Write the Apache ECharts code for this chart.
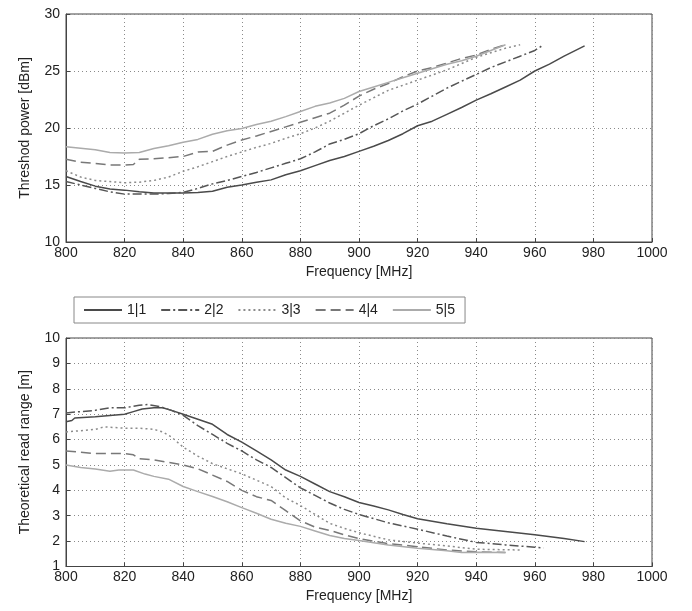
<!DOCTYPE html>
<html>
<head>
<meta charset="utf-8">
<script src="https://cdn.jsdelivr.net/npm/echarts@6/dist/echarts.min.js"></script>
<style>html,body{margin:0;padding:0;background:#fff}#c{width:692px;height:611px}</style>
</head>
<body>
<div id="c"></div>
<script>
// ---- Data ----
var seriesNames = ['1|1', '2|2', '3|3', '4|4', '5|5'];
var xTicks = [800, 820, 840, 860, 880, 900, 920, 940, 960, 980, 1000];

// Threshold power [dBm] (top panel)
var f1Top = [800,805,810,815,820,825,830,835,840,845,850,855,860,865,870,875,880,885,890,895,900,905,910,915,920,925,930,935,940,945,950,955,960,965,970,977];
var p1Top = [15.75,15.3,14.9,14.65,14.55,14.4,14.3,14.3,14.3,14.35,14.45,14.8,15.0,15.25,15.45,15.9,16.25,16.7,17.15,17.5,17.95,18.4,18.9,19.5,20.2,20.6,21.2,21.8,22.45,23.0,23.6,24.2,25.0,25.6,26.3,27.2];

var f2Top = [800,805,810,815,820,825,830,835,840,845,850,855,860,865,870,875,880,885,890,895,900,905,910,915,920,925,930,935,940,945,950,955,960,963];
var p2Top = [15.3,15.0,14.7,14.4,14.2,14.2,14.2,14.25,14.35,14.7,15.1,15.4,15.75,16.1,16.5,16.9,17.3,17.9,18.6,19.0,19.5,20.2,20.8,21.5,22.1,22.8,23.5,24.1,24.7,25.3,25.8,26.3,26.8,27.3];

var f3Top = [800,805,810,815,820,825,830,835,840,845,850,855,860,865,870,875,880,885,890,895,900,910,920,930,940,950,955];
var p3Top = [16.25,15.7,15.4,15.3,15.2,15.25,15.4,15.7,16.2,16.6,17.05,17.5,17.9,18.3,18.65,19.1,19.5,20.0,20.6,21.3,22.0,23.3,24.2,25.1,26.2,27.0,27.3];

var f4Top = [800,805,810,815,820,823,825,830,840,845,850,855,860,865,870,875,880,885,890,895,900,905,910,915,920,925,930,935,940,945,950];
var p4Top = [17.25,17.0,16.9,16.75,16.75,16.8,17.25,17.3,17.5,17.9,17.95,18.5,18.95,19.3,19.7,20.1,20.5,20.9,21.3,22.0,22.8,23.4,23.9,24.5,25.0,25.3,25.7,26.1,26.4,26.9,27.3];

var f5Top = [800,810,815,820,825,830,835,840,845,850,855,860,865,870,875,880,885,890,895,900,905,910,915,920,925,930,935,940,945,950];
var p5Top = [18.35,18.1,17.85,17.8,17.85,18.2,18.45,18.75,19.0,19.45,19.75,19.95,20.3,20.6,21.0,21.45,21.9,22.2,22.6,23.2,23.6,24.0,24.4,24.8,25.2,25.6,25.9,26.3,26.8,27.3];

// Theoretical read range [m] (bottom panel)
var f1Bot = [800,802,803,810,815,820,823,826,830,833,836,840,845,850,855,860,865,870,875,880,885,890,895,900,905,910,915,920,930,940,950,960,970,977];
var r1Bot = [6.7,6.75,6.85,6.9,6.95,7.0,7.1,7.2,7.25,7.25,7.15,7.0,6.8,6.6,6.2,5.9,5.55,5.2,4.8,4.55,4.25,3.95,3.75,3.52,3.38,3.23,3.05,2.88,2.68,2.51,2.38,2.25,2.1,1.98];

var f2Bot = [800,805,810,815,820,825,828,832,836,840,845,850,855,860,865,870,875,880,885,890,895,900,910,920,930,940,950,960,963];
var r2Bot = [7.05,7.1,7.15,7.25,7.25,7.35,7.38,7.3,7.15,6.95,6.55,6.2,5.85,5.55,5.2,4.9,4.5,4.1,3.8,3.5,3.25,3.05,2.72,2.47,2.2,1.95,1.85,1.76,1.73];

var f3Bot = [800,805,810,813,820,825,830,833,836,840,845,850,855,860,865,870,875,880,885,890,895,900,910,920,930,940,950,955];
var r3Bot = [6.3,6.35,6.4,6.5,6.45,6.45,6.4,6.3,6.1,5.7,5.35,5.05,4.85,4.65,4.4,4.15,3.7,3.4,3.05,2.7,2.5,2.33,2.05,1.92,1.81,1.68,1.66,1.65];

var f4Bot = [800,805,810,815,820,823,825,830,835,840,845,850,855,860,865,870,875,880,885,890,895,900,910,920,930,940,950];
var r4Bot = [5.55,5.5,5.45,5.45,5.45,5.4,5.25,5.2,5.1,5.0,4.85,4.6,4.35,4.0,3.75,3.6,3.2,2.8,2.55,2.42,2.25,2.1,1.9,1.78,1.65,1.58,1.55];

var f5Bot = [800,805,810,815,818,823,827,830,835,840,845,850,855,860,865,870,875,880,885,890,895,900,910,920,930,935,940,950];
var r5Bot = [5.0,4.9,4.84,4.75,4.8,4.8,4.64,4.55,4.44,4.15,3.95,3.76,3.55,3.32,3.1,2.86,2.7,2.58,2.4,2.22,2.1,2.02,1.85,1.72,1.62,1.55,1.56,1.55];

// ---- Build ----
function pairs(xs, ys) { return xs.map(function (x, i) { return [x, ys[i]]; }); }

var colors = ['#4a4a4a', '#555555', '#8c8c8c', '#787878', '#ababab'];
var dashes = ['solid', [9, 3, 2, 3], [2, 3], [10, 5], 'solid'];
var topData = [pairs(f1Top, p1Top), pairs(f2Top, p2Top), pairs(f3Top, p3Top), pairs(f4Top, p4Top), pairs(f5Top, p5Top)];
var botData = [pairs(f1Bot, r1Bot), pairs(f2Bot, r2Bot), pairs(f3Bot, r3Bot), pairs(f4Bot, r4Bot), pairs(f5Bot, r5Bot)];

var FONT = 'Liberation Sans';
var txt = { fontFamily: FONT, fontSize: 14, color: '#222' };

function xAxisCfg(gridIndex) {
  return {
    type: 'value', gridIndex: gridIndex, min: 800, max: 1000, interval: 20,
    name: 'Frequency [MHz]', nameLocation: 'middle', nameGap: 23,
    nameTextStyle: txt,
    axisLine: { show: true, lineStyle: { color: '#444', width: 1 } },
    axisTick: { show: true, inside: true, length: 4, lineStyle: { color: '#444' } },
    axisLabel: Object.assign({ margin: 4, formatter: function (v) { return String(v); } }, txt),
    splitLine: { show: true, lineStyle: { type: [1, 3], color: '#8a8a8a', width: 1 } }
  };
}
function yAxisCfg(gridIndex, min, max, interval, name) {
  return {
    type: 'value', gridIndex: gridIndex, min: min, max: max, interval: interval,
    name: name, nameLocation: 'middle', nameGap: 34,
    nameTextStyle: txt,
    axisLine: { show: true, lineStyle: { color: '#444', width: 1 } },
    axisTick: { show: true, inside: true, length: 4, lineStyle: { color: '#444' } },
    axisLabel: Object.assign({ margin: 6 }, txt),
    splitLine: { show: true, lineStyle: { type: [1, 3], color: '#8a8a8a', width: 1 } }
  };
}

var series = [];
for (var i = 0; i < 5; i++) {
  series.push({
    name: seriesNames[i], type: 'line', xAxisIndex: 0, yAxisIndex: 0,
    data: topData[i], symbol: 'none', showSymbol: false, animation: false,
    lineStyle: { color: colors[i], width: 1.5, type: dashes[i] },
    itemStyle: { color: colors[i] }
  });
}
for (var j = 0; j < 5; j++) {
  series.push({
    name: seriesNames[j], type: 'line', xAxisIndex: 1, yAxisIndex: 1,
    data: botData[j], symbol: 'none', showSymbol: false, animation: false,
    lineStyle: { color: colors[j], width: 1.5, type: dashes[j] },
    itemStyle: { color: colors[j] }
  });
}

var chart = echarts.init(document.getElementById('c'), null, { renderer: 'canvas' });
chart.setOption({
  backgroundColor: '#fff',
  animation: false,
  grid: [
    { left: 66, right: 40, top: 14, height: 228, show: true, borderColor: '#444', borderWidth: 1, backgroundColor: 'transparent' },
    { left: 66, right: 40, top: 338, height: 228.5, show: true, borderColor: '#444', borderWidth: 1, backgroundColor: 'transparent' }
  ],
  legend: {
    data: seriesNames, left: 74, top: 297, orient: 'horizontal',
    padding: [6, 10, 6, 9], itemGap: 14, itemWidth: 38, itemHeight: 14,
    borderColor: '#888', borderWidth: 1, backgroundColor: '#fff',
    itemStyle: { opacity: 0 },
    lineStyle: { width: 2 },
    textStyle: { fontFamily: FONT, fontSize: 14, color: '#222' }
  },
  xAxis: [xAxisCfg(0), xAxisCfg(1)],
  yAxis: [
    yAxisCfg(0, 10, 30, 5, 'Threshod power [dBm]'),
    yAxisCfg(1, 1, 10, 1, 'Theoretical read range [m]')
  ],
  series: series
});
</script>
</body>
</html>
